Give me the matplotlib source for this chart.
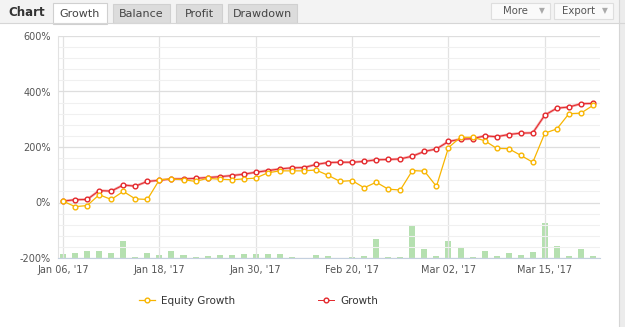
import matplotlib
matplotlib.use("Agg")
import matplotlib.pyplot as plt
import numpy as np
from matplotlib.patches import Rectangle
from matplotlib.ticker import MultipleLocator, FuncFormatter

# Values (one point per trading day).
growth = [5, 10, 11, 43, 41, 63, 59, 76, 80, 85, 85, 87, 90, 93, 97, 102,
          109, 115, 121, 125, 126, 137, 144, 145, 145, 148, 154, 155, 157, 167,
          184, 193, 220, 228, 230, 240, 237, 245, 250, 251, 315, 340, 344, 356, 357]
equity_growth = [5, -15, -11, 28, 11, 40, 13, 11, 82, 85, 82, 76, 87, 84, 82, 85,
                 88, 107, 114, 114, 114, 117, 98, 76, 79, 53, 73, 48, 45, 115,
                 113, 58, 198, 235, 235, 223, 195, 194, 170, 145, 250, 265, 320, 322, 350]
volume = [3.6, 4.6, 7.3, 7.3, 4.6, 17.3, 1, 4.6, 2.6, 7.3, 2.6, 1, 2, 3, 3, 4,
          4, 4, 4, 1, 0.3, 3, 2, 0.3, 1, 2, 19, 1, 1, 33,
          9, 1.6, 17, 11, 0.6, 7, 1.6, 4.6, 2.6, 6.3, 35, 12, 1.6, 9, 1.6]
tick_idx = [0, 8, 16, 24, 32, 40]
tick_labels = ["Jan 06, '17", "Jan 18, '17", "Jan 30, '17",
               "Feb 20, '17", "Mar 02, '17", "Mar 15, '17"]
tabs = ["Growth", "Balance", "Profit", "Drawdown"]

W, H = 625, 327
fig = plt.figure(figsize=(W / 100, H / 100), dpi=100)
fig.patch.set_facecolor("white")

# Header / chrome drawn in pixel coordinates.
chrome = fig.add_axes([0, 0, 1, 1])
chrome.set_xlim(0, W)
chrome.set_ylim(H, 0)
chrome.axis("off")
chrome.add_patch(Rectangle((0, 0), W, 23, facecolor="#f3f3f3", edgecolor="none"))
chrome.plot([0, W], [23, 23], color="#d6d6d6", lw=0.8)
chrome.add_patch(Rectangle((619, 0), 6, H, facecolor="#ececec", edgecolor="none"))
chrome.plot([619, 619], [0, H], color="#d6d6d6", lw=0.8)
chrome.text(8, 13, "Chart", fontsize=8.5, fontweight="bold", color="#333333",
            va="center", ha="left")
tab_x = [(53, 107), (113, 170), (176, 222), (228, 297)]
for name, (x0, x1) in zip(tabs, tab_x):
    active = name == "Growth"
    chrome.add_patch(Rectangle((x0, 3 if active else 4), x1 - x0, 21 if active else 19,
                               facecolor="white" if active else "#dcdcdc",
                               edgecolor="#d0d0d0", lw=0.8))
    chrome.text((x0 + x1) / 2, 14, name, fontsize=8, color="#444444",
                ha="center", va="center")
for label, (x0, x1) in zip(["More", "Export"], [(491, 550), (554, 613)]):
    chrome.add_patch(Rectangle((x0, 3), x1 - x0, 16, facecolor="#fafafa",
                               edgecolor="#dedede", lw=0.8))
    chrome.text(x0 + (x1 - x0) * 0.42, 11.5, label, fontsize=7.3, color="#555555",
                ha="center", va="center")
    chrome.text(x1 - 8, 11, "\u25bc", fontsize=5.5, color="#aaaaaa",
                ha="center", va="center")

# Main plot area (pixels 58..600 x 36..258).
ax = fig.add_axes([58 / W, 1 - 258 / H, (600 - 58) / W, (258 - 36) / H])
ax.set_facecolor("none")
x = np.arange(len(growth))

ax2 = ax.twinx()
ax2.bar(x, volume, width=0.5, color="#b5e0b0", zorder=1)
ax2.set_ylim(0, 222)
ax2.set_yticks([])
for s in ax2.spines.values():
    s.set_visible(False)
ax.set_zorder(ax2.get_zorder() + 1)

ax.plot(x, growth, color="#f5a3a3", lw=1.8, zorder=3, solid_capstyle="round")
ax.plot(x, growth, color="#e3262a", lw=0.7, marker="o", markersize=3.4,
        markerfacecolor="white", markeredgecolor="#e3262a", markeredgewidth=1.0,
        zorder=4, label="Growth")
ax.plot(x, equity_growth, color="#f8b500", lw=0.9, marker="o", markersize=3.4,
        markerfacecolor="white", markeredgecolor="#f8b500", markeredgewidth=1.0,
        zorder=5, label="Equity Growth")

ax.set_xlim(-0.42, 44.58)
ax.set_ylim(-200, 600)
ax.yaxis.set_major_locator(MultipleLocator(200))
ax.yaxis.set_minor_locator(MultipleLocator(40))
ax.yaxis.set_major_formatter(FuncFormatter(lambda v, p: f"{v:.0f}%"))
ax.set_xticks(tick_idx)
ax.set_xticklabels(tick_labels)
ax.grid(axis="y", which="major", color="#dedede", lw=0.9)
ax.grid(axis="y", which="minor", color="#f0f0f0", lw=0.8)
ax.grid(axis="x", which="major", color="#e2e2e2", lw=0.9)
ax.set_axisbelow(True)
ax.tick_params(axis="both", which="both", length=0, labelsize=7, labelcolor="#555555")
ax.tick_params(axis="y", pad=5)
ax.tick_params(axis="x", pad=5)
for side in ["top", "right"]:
    ax.spines[side].set_visible(False)
ax.spines["left"].set_color("#e2e2e2")
ax.spines["bottom"].set_color("#c4d0df")

handles, labels = ax.get_legend_handles_labels()
order = [1, 0]
leg = fig.legend([handles[i] for i in order], [labels[i] for i in order],
                 loc="center left", bbox_to_anchor=(139 / W, 1 - 301 / H),
                 ncol=2, frameon=False, fontsize=7.5, handlelength=1.5,
                 handletextpad=0.6, columnspacing=8.0, borderpad=0,
                 borderaxespad=0)
for t in leg.get_texts():
    t.set_color("#333333")

fig.savefig("out.png", dpi=100)
